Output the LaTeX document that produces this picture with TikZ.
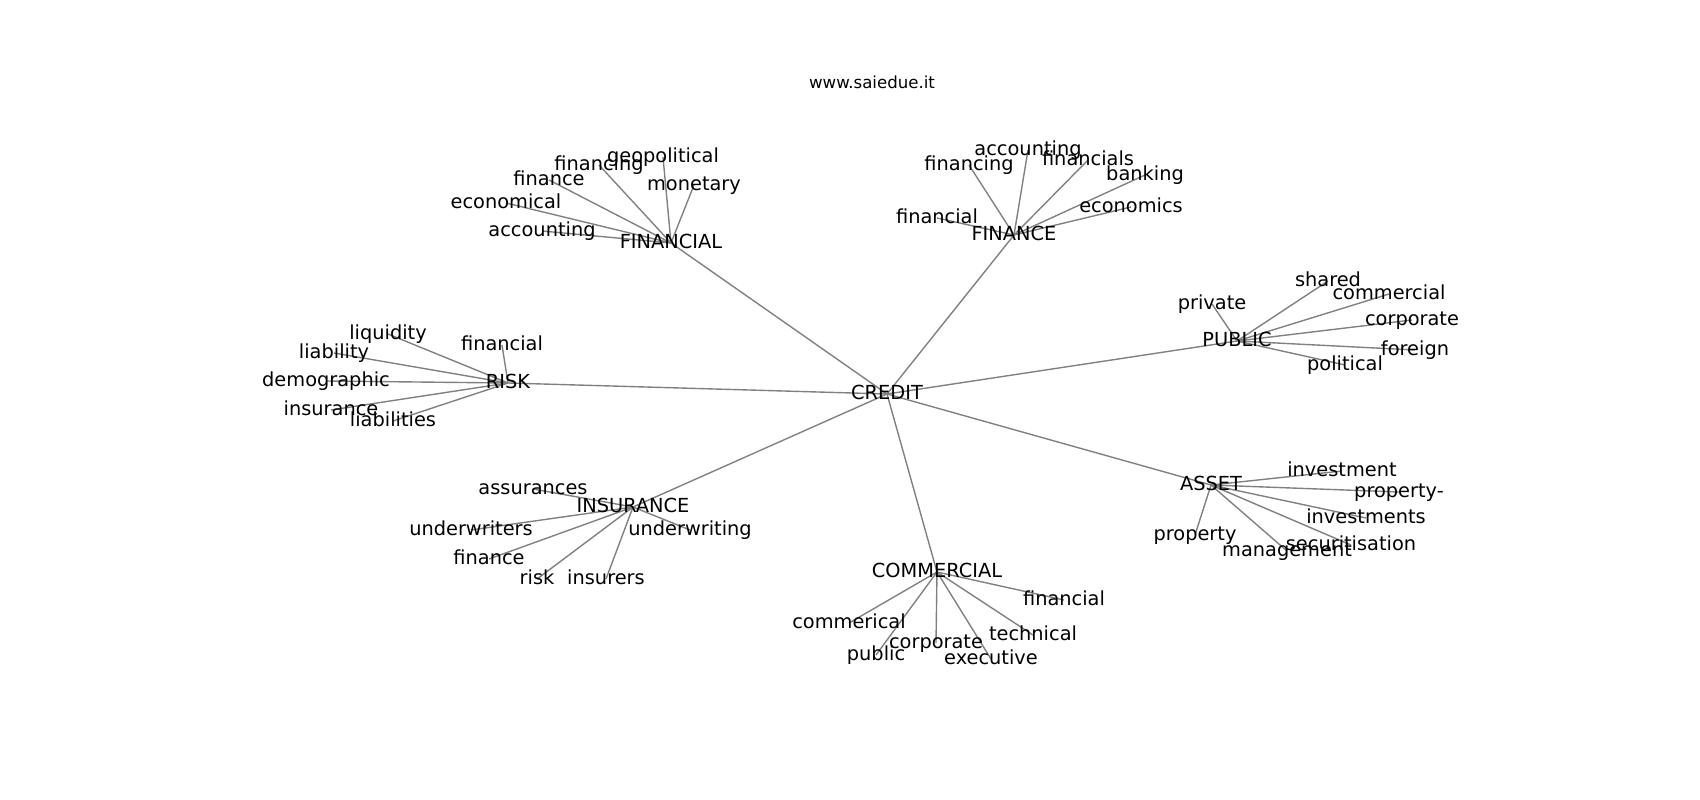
\documentclass[tikz,border=0pt]{standalone}
\usepackage{fontspec}
\setmainfont{DejaVu Sans}
\begin{document}
\begin{tikzpicture}[x=1bp,y=-1bp,
  lbl/.style={font=\fontsize{19.44}{23}\selectfont, inner sep=0pt, text height=14.77bp, text depth=4.04bp, anchor=center},
  edge/.style={draw=gray, line width=1.39bp},
  ttl/.style={font=\fontsize{16.67}{20}\selectfont, inner sep=0pt, anchor=base}]
\useasboundingbox (0,0) rectangle (1700,800);
% hubs
\coordinate (credit) at (887,394);
\coordinate (financial) at (671,243);
\coordinate (finance) at (1014,235);
\coordinate (public) at (1237,341);
\coordinate (risk) at (508,383);
\coordinate (insurance) at (633,507);
\coordinate (commercial) at (937,572);
\coordinate (asset) at (1211,485);
% FINANCIAL leaves
\coordinate (fl1) at (663,157);
\coordinate (fl2) at (599,165);
\coordinate (fl3) at (694,185);
\coordinate (fl4) at (549,180);
\coordinate (fl5) at (506,203);
\coordinate (fl6) at (542,231);
% FINANCE leaves
\coordinate (fe1) at (1028,150);
\coordinate (fe2) at (969,165);
\coordinate (fe3) at (1088,160);
\coordinate (fe4) at (1145,175);
\coordinate (fe5) at (1131,207);
\coordinate (fe6) at (937,218);
% PUBLIC leaves
\coordinate (pu1) at (1212,304);
\coordinate (pu2) at (1328,281);
\coordinate (pu3) at (1389,294);
\coordinate (pu4) at (1412,320);
\coordinate (pu5) at (1415,350);
\coordinate (pu6) at (1345,365);
% RISK leaves
\coordinate (ri1) at (388,334);
\coordinate (ri2) at (502,345);
\coordinate (ri3) at (334,353);
\coordinate (ri4) at (326,381);
\coordinate (ri5) at (331,410);
\coordinate (ri6) at (393,421);
% INSURANCE leaves
\coordinate (in1) at (533,489);
\coordinate (in2) at (471,530);
\coordinate (in3) at (690,530);
\coordinate (in4) at (489,559);
\coordinate (in5) at (537,579);
\coordinate (in6) at (606,579);
% COMMERCIAL leaves
\coordinate (co1) at (1064,600);
\coordinate (co2) at (849,623);
\coordinate (co3) at (1033,635);
\coordinate (co4) at (936,643);
\coordinate (co5) at (876,655);
\coordinate (co6) at (991,659);
% ASSET leaves
\coordinate (as1) at (1342,471);
\coordinate (as2) at (1399,492);
\coordinate (as3) at (1366,518);
\coordinate (as4) at (1195,535);
\coordinate (as5) at (1351,545);
\coordinate (as6) at (1287,551);
% edges
\foreach \h in {financial,finance,public,risk,insurance,commercial,asset}
  \draw[edge] (credit) -- (\h);
\foreach \i in {1,...,6} {
  \draw[edge] (financial) -- (fl\i);
  \draw[edge] (finance) -- (fe\i);
  \draw[edge] (public) -- (pu\i);
  \draw[edge] (risk) -- (ri\i);
  \draw[edge] (insurance) -- (in\i);
  \draw[edge] (commercial) -- (co\i);
  \draw[edge] (asset) -- (as\i);
}
% labels
\node[ttl] (title) at (872,88.5) {www.saiedue.it};
\node[lbl] (tcredit) at (credit) {CREDIT};
\node[lbl] (tfinancial) at (financial) {FINANCIAL};
\node[lbl] (tfinance) at (finance) {FINANCE};
\node[lbl] (tpublic) at (public) {PUBLIC};
\node[lbl] (trisk) at (risk) {RISK};
\node[lbl] (tinsurance) at (insurance) {INSURANCE};
\node[lbl] (tcommercial) at (commercial) {COMMERCIAL};
\node[lbl] (tasset) at (asset) {ASSET};
\node[lbl] (tfl1) at (fl1) {geopolitical};
\node[lbl] (tfl2) at (fl2) {financing};
\node[lbl] (tfl3) at (fl3) {monetary};
\node[lbl] (tfl4) at (fl4) {finance};
\node[lbl] (tfl5) at (fl5) {economical};
\node[lbl] (tfl6) at (fl6) {accounting};
\node[lbl] (tfe1) at (fe1) {accounting};
\node[lbl] (tfe2) at (fe2) {financing};
\node[lbl] (tfe3) at (fe3) {financials};
\node[lbl] (tfe4) at (fe4) {banking};
\node[lbl] (tfe5) at (fe5) {economics};
\node[lbl] (tfe6) at (fe6) {financial};
\node[lbl] (tpu1) at (pu1) {private};
\node[lbl] (tpu2) at (pu2) {shared};
\node[lbl] (tpu3) at (pu3) {commercial};
\node[lbl] (tpu4) at (pu4) {corporate};
\node[lbl] (tpu5) at (pu5) {foreign};
\node[lbl] (tpu6) at (pu6) {political};
\node[lbl] (tri1) at (ri1) {liquidity};
\node[lbl] (tri2) at (ri2) {financial};
\node[lbl] (tri3) at (ri3) {liability};
\node[lbl] (tri4) at (ri4) {demographic};
\node[lbl] (tri5) at (ri5) {insurance};
\node[lbl] (tri6) at (ri6) {liabilities};
\node[lbl] (tin1) at (in1) {assurances};
\node[lbl] (tin2) at (in2) {underwriters};
\node[lbl] (tin3) at (in3) {underwriting};
\node[lbl] (tin4) at (in4) {finance};
\node[lbl] (tin5) at (in5) {risk};
\node[lbl] (tin6) at (in6) {insurers};
\node[lbl] (tco1) at (co1) {financial};
\node[lbl] (tco2) at (co2) {commerical};
\node[lbl] (tco3) at (co3) {technical};
\node[lbl] (tco4) at (co4) {corporate};
\node[lbl] (tco5) at (co5) {public};
\node[lbl] (tco6) at (co6) {executive};
\node[lbl] (tas1) at (as1) {investment};
\node[lbl] (tas2) at (as2) {property-};
\node[lbl] (tas3) at (as3) {investments};
\node[lbl] (tas4) at (as4) {property};
\node[lbl] (tas5) at (as5) {securitisation};
\node[lbl] (tas6) at (as6) {management};
\end{tikzpicture}
\end{document}
